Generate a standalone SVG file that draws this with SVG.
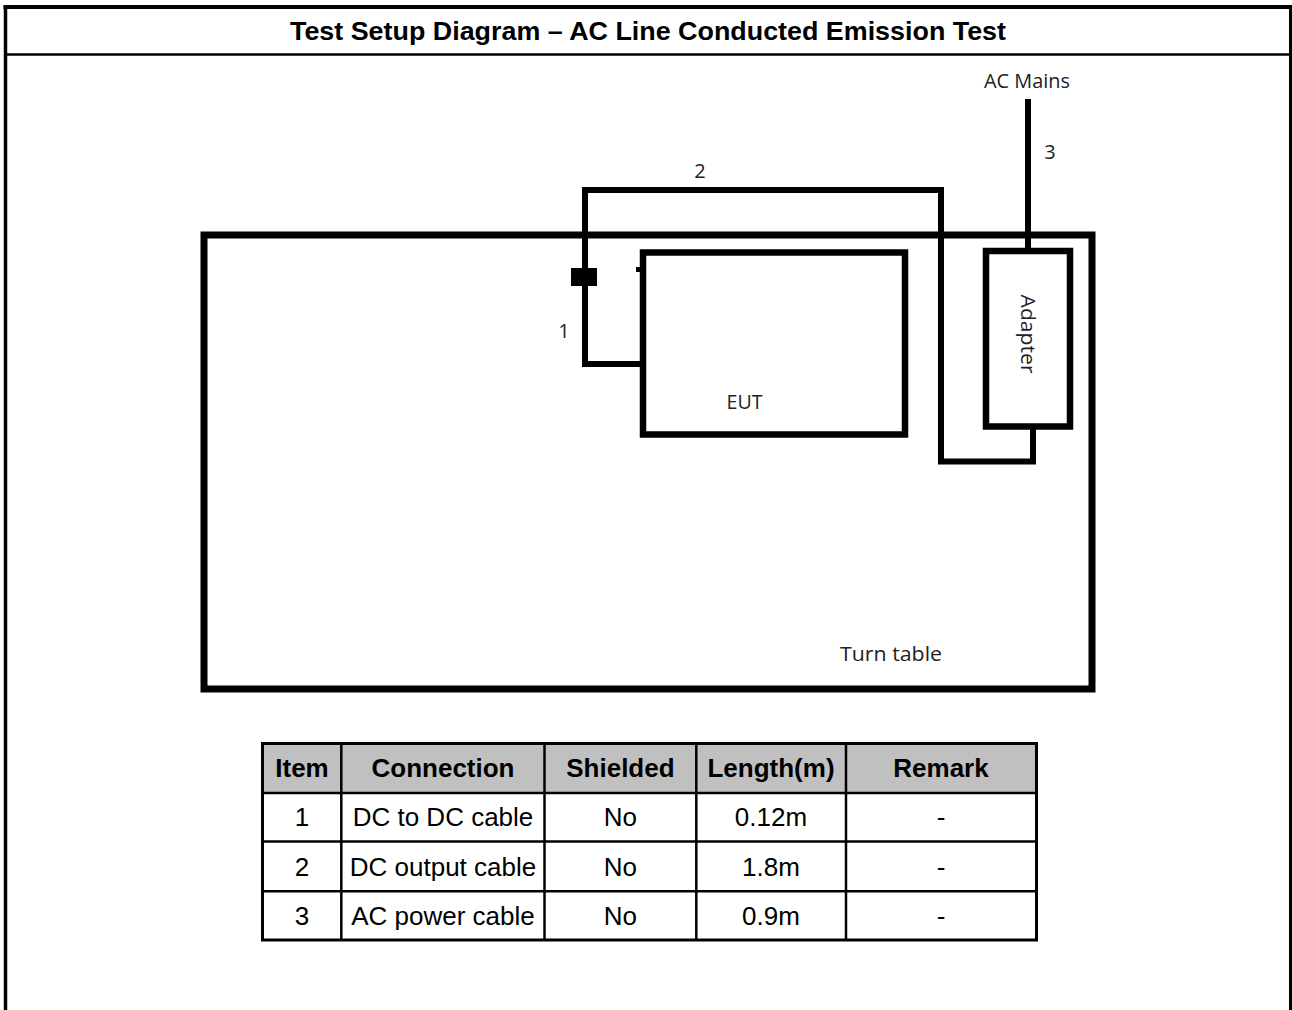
<svg xmlns="http://www.w3.org/2000/svg" width="1292" height="1010" viewBox="0 0 1292 1010">
<style>
.frame{stroke:#000;fill:none}
.thick{stroke:#000;fill:none;stroke-width:6.5}
.cable{stroke:#000;fill:none;stroke-width:6}
.title{font-family:"Liberation Sans",Arial,sans-serif;font-weight:bold;font-size:26px;text-anchor:middle;fill:#000}
.hd{font-family:"Liberation Sans",Arial,sans-serif;font-weight:bold;font-size:26px;text-anchor:middle;fill:#000}
.bd{font-family:"Liberation Sans",Arial,sans-serif;font-size:26px;text-anchor:middle;fill:#000}
.lbl{font-family:"Open Sans","Noto Sans",sans-serif;font-size:20px;fill:#222;text-anchor:middle}
.grid{stroke:#000;stroke-width:2.5;fill:none}
</style>
<rect x="0" y="0" width="1292" height="1010" fill="#fff"/>
<g id="frame">
<line class="frame" x1="3.5" y1="7" x2="1292" y2="7" stroke-width="4"/>
<line class="frame" x1="5.5" y1="5" x2="5.5" y2="1010" stroke-width="3.5"/>
<line class="frame" x1="1290.5" y1="5" x2="1290.5" y2="1010" stroke-width="3"/>
<line class="frame" x1="4" y1="54.5" x2="1292" y2="54.5" stroke-width="2.5"/>
<text class="title" x="648" y="40" textLength="716" lengthAdjust="spacingAndGlyphs">Test Setup Diagram – AC Line Conducted Emission Test</text>
</g>
<g id="turntable">
<rect x="204" y="235" width="888" height="454" fill="none" stroke="#000" stroke-width="7"/>
<text class="lbl" x="891" y="661" textLength="102" lengthAdjust="spacingAndGlyphs">Turn table</text>
</g>
<g id="eut">
<rect class="thick" x="643" y="252.5" width="262" height="182"/>
<rect x="636" y="267" width="7" height="5" fill="#000"/>
<text class="lbl" x="744.5" y="409" textLength="36" lengthAdjust="spacingAndGlyphs">EUT</text>
</g>
<g id="adapter">
<rect class="thick" x="986" y="251" width="84" height="175.5"/>
<text class="lbl" transform="translate(1021,334) rotate(90)" x="0" y="0" textLength="79" lengthAdjust="spacingAndGlyphs">Adapter</text>
</g>
<g id="acmains">
<text class="lbl" x="1027" y="88" textLength="86" lengthAdjust="spacingAndGlyphs">AC Mains</text>
</g>
<g id="connectors">
<path class="cable" d="M585 278 V190 H941 V461.5 H1033 V426"/>
<path class="cable" d="M585 284 V364 H643"/>
<rect x="571" y="268" width="26" height="18" fill="#000"/>
<line class="cable" x1="1028" y1="99" x2="1028" y2="252"/>
<text class="lbl" x="700" y="178" font-size="19">2</text>
<text class="lbl" x="564" y="338" font-size="19">1</text>
<text class="lbl" x="1050" y="159" font-size="19">3</text>
</g>
<g id="table">
<rect x="262.5" y="743.5" width="774" height="49.5" fill="#c0c0c0"/>
<rect x="262.5" y="743.5" width="774" height="196.5" fill="none" stroke="#000" stroke-width="3"/>
<line class="grid" x1="262.5" y1="793" x2="1036.5" y2="793"/>
<line class="grid" x1="262.5" y1="841.5" x2="1036.5" y2="841.5"/>
<line class="grid" x1="262.5" y1="891.3" x2="1036.5" y2="891.3"/>
<line class="grid" x1="341.3" y1="743.5" x2="341.3" y2="940"/>
<line class="grid" x1="544.5" y1="743.5" x2="544.5" y2="940"/>
<line class="grid" x1="696.3" y1="743.5" x2="696.3" y2="940"/>
<line class="grid" x1="846" y1="743.5" x2="846" y2="940"/>
<text class="hd" x="302" y="777">Item</text>
<text class="hd" x="443" y="777">Connection</text>
<text class="hd" x="620.4" y="777">Shielded</text>
<text class="hd" x="771" y="777">Length(m)</text>
<text class="hd" x="941" y="777">Remark</text>
<text class="bd" x="302" y="826">1</text>
<text class="bd" x="443" y="826">DC to DC cable</text>
<text class="bd" x="620.4" y="826">No</text>
<text class="bd" x="771" y="826">0.12m</text>
<text class="bd" x="941" y="826">-</text>
<text class="bd" x="302" y="875.7">2</text>
<text class="bd" x="443" y="875.7">DC output cable</text>
<text class="bd" x="620.4" y="875.7">No</text>
<text class="bd" x="771" y="875.7">1.8m</text>
<text class="bd" x="941" y="875.7">-</text>
<text class="bd" x="302" y="924.8">3</text>
<text class="bd" x="443" y="924.8">AC power cable</text>
<text class="bd" x="620.4" y="924.8">No</text>
<text class="bd" x="771" y="924.8">0.9m</text>
<text class="bd" x="941" y="924.8">-</text>
</g>
</svg>
